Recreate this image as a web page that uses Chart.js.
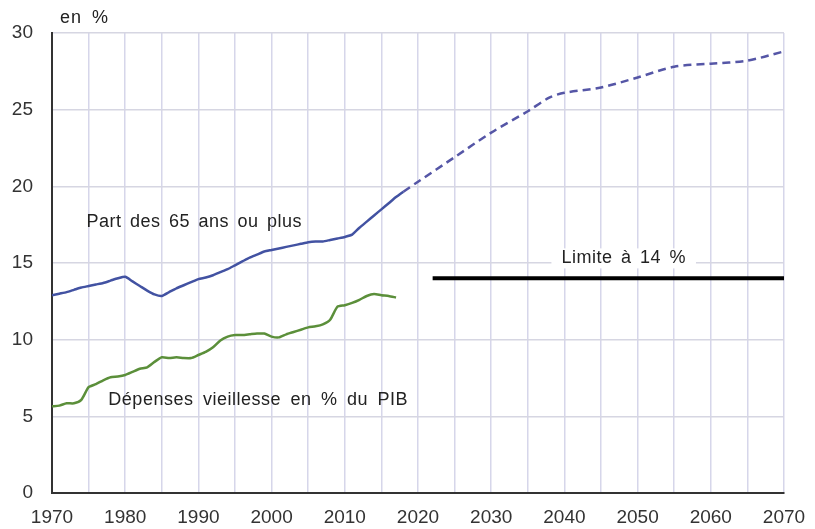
<!DOCTYPE html>
<html>
<head>
<meta charset="utf-8">
<script src="https://cdn.jsdelivr.net/npm/chart.js@4/dist/chart.umd.min.js"></script>
<style>
  html, body { margin: 0; padding: 0; background: #fff; }
  #wrap { width: 815px; height: 529px; }
</style>
</head>
<body>
<div id="wrap"><canvas id="myChart" width="815" height="529"></canvas></div>
<script>
// part des 65 ans ou plus, observé
var years_obs = [1970,1971,1972,1973,1974,1975,1976,1977,1978,1979,1980,1981,1982,1983,1984,1985,1986,1987,1988,1989,1990,1991,1992,1993,1994,1995,1996,1997,1998,1999,2000,2001,2002,2003,2004,2005,2006,2007,2008,2009,2010,2011,2012,2013,2014,2015,2016,2017,2018];
var part65_obs = [12.9,13.0,13.1,13.25,13.4,13.5,13.6,13.7,13.85,14.0,14.1,13.8,13.5,13.2,12.95,12.85,13.1,13.35,13.55,13.75,13.95,14.05,14.2,14.4,14.6,14.85,15.1,15.35,15.55,15.75,15.85,15.95,16.05,16.15,16.25,16.35,16.4,16.4,16.5,16.6,16.7,16.85,17.3,17.7,18.1,18.5,18.9,19.3,19.65];

// projection
var years_proj = [2018,2020,2025,2030,2035,2038,2040,2045,2050,2055,2060,2065,2070];
var part65_proj = [19.65,20.3,21.9,23.5,24.9,25.8,26.1,26.45,27.1,27.8,28.0,28.2,28.8];

// dépenses vieillesse en % du PIB
var years_dep = [1970,1971,1972,1973,1974,1975,1976,1977,1978,1979,1980,1981,1982,1983,1984,1985,1986,1987,1988,1989,1990,1991,1992,1993,1994,1995,1996,1997,1998,1999,2000,2001,2002,2003,2004,2005,2006,2007,2008,2009,2010,2011,2012,2013,2014,2015,2016,2017];
var depenses = [5.65,5.7,5.85,5.85,6.07,6.9,7.1,7.35,7.55,7.6,7.7,7.9,8.1,8.2,8.55,8.85,8.8,8.85,8.8,8.8,9.0,9.2,9.5,9.95,10.2,10.3,10.3,10.35,10.4,10.4,10.2,10.15,10.35,10.5,10.65,10.8,10.87,11.0,11.3,12.15,12.25,12.4,12.6,12.85,12.98,12.9,12.85,12.75];

var limite_years = [2022, 2070];
var limite_val = 14;

var xTicks = [1970,1980,1990,2000,2010,2020,2030,2040,2050,2060,2070];

function toPts(xs, ys) {
	var out = [];
	for (var i = 0; i < xs.length; i++) out.push({x: xs[i], y: ys[i]});
	return out;
}

const FONT = '"Liberation Sans", Arial, sans-serif';

function spaced(c, ls, ws) {
	c.letterSpacing = ls + 'px';
	c.wordSpacing = ws + 'px';
}

// texts placed on the chart
const labelsPlugin = {
	id: 'labels',
	afterDatasetsDraw(chart) {
		const c = chart.ctx;
		const xs = chart.scales.x, ys = chart.scales.y;
		c.save();
		c.font = '18px ' + FONT;
		c.textBaseline = 'middle';

		// Limite à 14 %
		spaced(c, 0.5, 3);
		var t = 'Limite à 14 %';
		var w = c.measureText(t).width;
		var cx = xs.getPixelForValue(2048.1), cy = ys.getPixelForValue(15.3);
		c.fillStyle = '#fff';
		c.fillRect(cx - w/2 - 10, cy - 10, w + 20, 20);
		c.fillStyle = '#222';
		c.textAlign = 'left';
		c.fillText(t, cx - w/2, cy);

		spaced(c, 0.5, 3);
		c.fillText('Part des 65 ans ou plus', xs.getPixelForValue(1974.7), ys.getPixelForValue(17.7));
		spaced(c, 0.5, 4);
		c.fillText('Dépenses vieillesse en % du PIB', xs.getPixelForValue(1977.7), ys.getPixelForValue(6.05));

		spaced(c, 1, 4);
		c.fillText('en %', chart.chartArea.left + 8, chart.chartArea.top - 15);
		c.restore();
	}
};

new Chart(document.getElementById('myChart'), {
	type: 'line',
	data: {
		datasets: [{
			label: 'Part des 65 ans ou plus',
			data: toPts(years_obs, part65_obs),
			borderColor: '#4252a2',
			borderWidth: 2.5,
			pointRadius: 0,
			tension: 0.2
		}, {
			label: 'Projection',
			data: toPts(years_proj, part65_proj),
			borderColor: '#5556a6',
			borderWidth: 2.5,
			borderDash: [8, 5],
			pointRadius: 0,
			tension: 0.3
		}, {
			label: 'Dépenses vieillesse en % du PIB',
			data: toPts(years_dep, depenses),
			borderColor: '#5b8f3a',
			borderWidth: 2.5,
			pointRadius: 0,
			tension: 0.2
		}, {
			label: 'Limite',
			data: toPts(limite_years, [limite_val, limite_val]),
			borderColor: '#000',
			borderWidth: 4,
			pointRadius: 0
		}]
	},
	options: {
		responsive: false,
		animation: false,
		layout: { padding: { top: 33, right: 31, left: 0, bottom: 0 } },
		plugins: { legend: { display: false }, tooltip: { enabled: false } },
		scales: {
			x: {
				type: 'linear',
				min: 1970,
				max: 2070,
				afterBuildTicks: function(axis) {
					var t = [];
					for (var v = 1970; v <= 2070; v += 5) t.push({value: v});
					axis.ticks = t;
				},
				afterFit: function(axis) { axis.height = 36; axis.paddingRight = 0; axis.paddingLeft = 0; },
				ticks: {
					autoSkip: false,
					maxRotation: 0,
					padding: 13,
					color: '#333',
					font: { family: FONT, size: 19 },
					callback: function(v) { return xTicks.indexOf(v) >= 0 ? String(v) : ''; }
				},
				grid: { color: '#d6d6ea', lineWidth: 1.5, drawTicks: false },
				border: { color: '#333', width: 2 }
			},
			y: {
				min: 0,
				max: 30,
				ticks: {
					stepSize: 5,
					padding: 19,
					color: '#333',
					font: { family: FONT, size: 19 }
				},
				afterFit: function(axis) { axis.width = 52; },
				grid: { color: '#d6d6e2', lineWidth: 1.5, drawTicks: false },
				border: { color: '#333', width: 2 }
			}
		}
	},
	plugins: [labelsPlugin]
});
</script>
</body>
</html>
